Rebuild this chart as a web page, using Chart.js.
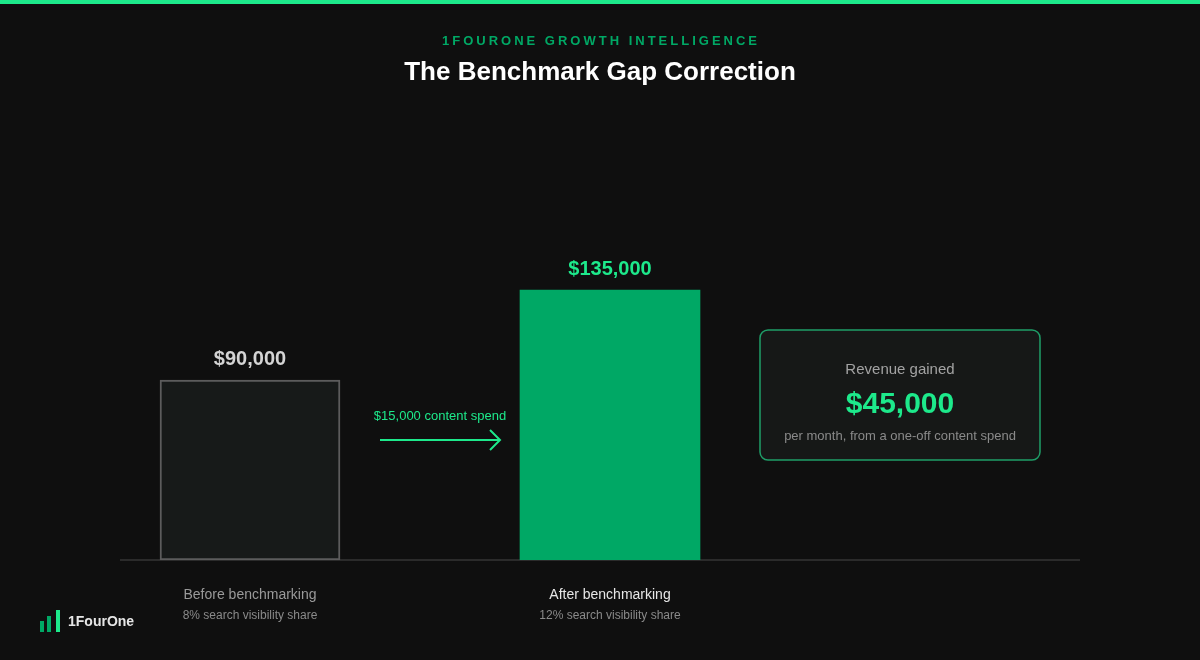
<!DOCTYPE html>
<html>
<head>
<meta charset="utf-8">
<script src="https://cdn.jsdelivr.net/npm/chart.js@4.4.1/dist/chart.umd.min.js"></script>
<style>
  html, body { margin: 0; padding: 0; background: #0f0f0f; }
  #wrap { position: relative; width: 1200px; height: 660px; }
  canvas { display: block; }
</style>
</head>
<body>
<div id="wrap"><canvas id="chart" width="1200" height="660"></canvas></div>
<script>
const categories = ['Before benchmarking', 'After benchmarking'];
const subLabels = ['8% search visibility share', '12% search visibility share'];
const revenue = [90000, 135000];
const valueLabels = ['$90,000', '$135,000'];
const spendLabel = '$15,000 content spend';
const gainTitle = 'Revenue gained';
const gainValue = '$45,000';
const gainNote = 'per month, from a one-off content spend';

const GREEN = '#00a865';
const BRIGHT = '#1de98b';
const FONT = '"Liberation Sans", Arial, sans-serif';

function roundRect(ctx, x, y, w, h, r) {
  ctx.beginPath();
  ctx.moveTo(x + r, y);
  ctx.arcTo(x + w, y, x + w, y + h, r);
  ctx.arcTo(x + w, y + h, x, y + h, r);
  ctx.arcTo(x, y + h, x, y, r);
  ctx.arcTo(x, y, x + w, y, r);
  ctx.closePath();
}

// everything around the bars: header, baseline, labels, arrow, callout box, logo
const decor = {
  id: 'decor',
  beforeDatasetsDraw(chart) {
    const ctx = chart.ctx;
    const y0 = chart.scales.y.getPixelForValue(0);
    ctx.save();
    ctx.strokeStyle = '#2b2b2b';
    ctx.lineWidth = 2;
    ctx.beginPath();
    ctx.moveTo(120, y0);
    ctx.lineTo(1080, y0);
    ctx.stroke();
    ctx.restore();
  },
  afterDatasetsDraw(chart) {
    const ctx = chart.ctx;
    const meta = chart.getDatasetMeta(0);
    ctx.save();

    // top stripe
    ctx.fillStyle = BRIGHT;
    ctx.fillRect(0, 0, 1200, 4);

    ctx.textAlign = 'center';
    ctx.textBaseline = 'middle';
    ctx.fillStyle = GREEN;
    ctx.font = 'bold 13px ' + FONT;
    ctx.letterSpacing = '3px';
    ctx.fillText('1FOURONE GROWTH INTELLIGENCE', 601, 41);
    ctx.letterSpacing = '0px';
    ctx.fillStyle = '#ffffff';
    ctx.font = 'bold 26px ' + FONT;
    ctx.fillText('The Benchmark Gap Correction', 600, 73);

    // bar values and category labels
    meta.data.forEach((bar, i) => {
      ctx.font = 'bold 20px ' + FONT;
      ctx.fillStyle = i === 0 ? '#d4d4d4' : BRIGHT;
      ctx.fillText(valueLabels[i], bar.x, bar.y - 21);
      ctx.font = '14px ' + FONT;
      ctx.fillStyle = i === 0 ? '#9a9a9a' : '#e6e6e6';
      ctx.fillText(categories[i], bar.x, 595);
      ctx.font = '12px ' + FONT;
      ctx.fillStyle = '#8a8a8a';
      ctx.fillText(subLabels[i], bar.x, 615.5);
    });

    // arrow between the bars
    const yArrow = chart.scales.y.getPixelForValue(60000);
    ctx.fillStyle = BRIGHT;
    ctx.font = '13px ' + FONT;
    ctx.fillText(spendLabel, 440, yArrow - 24);
    ctx.strokeStyle = BRIGHT;
    ctx.lineWidth = 2;
    ctx.beginPath();
    ctx.moveTo(380, yArrow);
    ctx.lineTo(500, yArrow);
    ctx.moveTo(490, yArrow - 10);
    ctx.lineTo(500, yArrow);
    ctx.lineTo(490, yArrow + 10);
    ctx.stroke();

    // callout box
    roundRect(ctx, 760, 330, 280, 130, 8);
    ctx.fillStyle = '#161817';
    ctx.fill();
    ctx.strokeStyle = '#1f9e68';
    ctx.lineWidth = 1.5;
    ctx.stroke();
    ctx.fillStyle = '#a3a3a3';
    ctx.font = '15px ' + FONT;
    ctx.fillText(gainTitle, 900, 370);
    ctx.fillStyle = BRIGHT;
    ctx.font = 'bold 30px ' + FONT;
    ctx.fillText(gainValue, 900, 405);
    ctx.fillStyle = '#8a8a8a';
    ctx.font = '13px ' + FONT;
    ctx.fillText(gainNote, 900, 436);

    // logo
    ctx.fillStyle = GREEN;
    ctx.fillRect(40, 621, 4, 11);
    ctx.fillRect(47, 616, 4, 16);
    ctx.fillStyle = BRIGHT;
    ctx.fillRect(56, 610, 4, 22);
    ctx.textAlign = 'left';
    ctx.fillStyle = '#e6e6e6';
    ctx.font = 'bold 14px ' + FONT;
    ctx.fillText('1FourOne', 68, 622);

    ctx.restore();
  }
};

new Chart(document.getElementById('chart'), {
  type: 'bar',
  data: {
    labels: categories,
    datasets: [{
      data: revenue,
      backgroundColor: ['#171a19', GREEN],
      borderColor: ['#5c5c5c', GREEN],
      borderWidth: [2, 0],
      borderSkipped: false,
      barThickness: 180
    }]
  },
  options: {
    responsive: false,
    animation: false,
    layout: { padding: { left: 70, right: 410, top: 110, bottom: 100 } },
    plugins: { legend: { display: false }, tooltip: { enabled: false } },
    scales: {
      x: { display: false },
      y: { display: false, min: 0, max: 225000 }
    }
  },
  plugins: [decor]
});
</script>
</body>
</html>
